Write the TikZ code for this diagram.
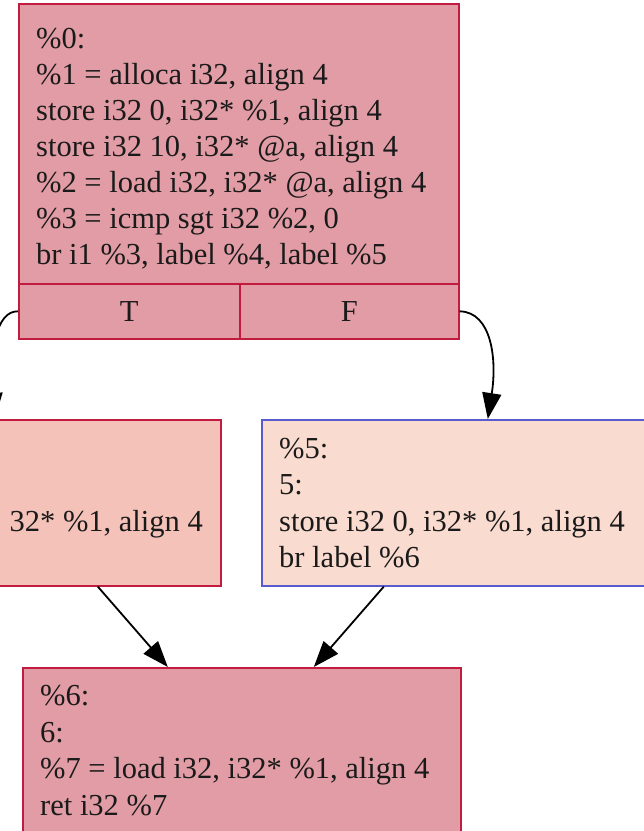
\documentclass[tikz,border=0pt]{standalone}
\usepackage{fontspec}
\setmainfont{Liberation Serif}
\usetikzlibrary{arrows.meta}
\definecolor{blockred}{HTML}{E29CA5}
\definecolor{blocklight}{HTML}{F4C2B9}
\definecolor{blockpeach}{HTML}{FADBCF}
\definecolor{crimson}{HTML}{C11C3F}
\definecolor{edgeblue}{HTML}{5A5ACF}
\definecolor{ink}{HTML}{1A1A1A}
\begin{document}
\begin{tikzpicture}[x=1bp,y=-1bp,
  blk/.style={draw=crimson, line width=1.6bp, rectangle, inner sep=0pt, anchor=north west},
  hot/.style={blk, fill=blockred},
  warm/.style={blk, fill=blocklight},
  cool/.style={blk, draw=edgeblue, fill=blockpeach},
  codefont/.style={font=\fontsize{30.5bp}{36bp}\selectfont, text=ink},
  txt/.style={codefont, anchor=base west, inner sep=0pt},
  flow/.style={draw=black, line width=1.8bp, -{Triangle[length=26bp,width=19bp]}}
]
\useasboundingbox (0,0) rectangle (644,831);
\clip (0,0) rectangle (644,831);

% entry block with its two branch ports
\node[hot, minimum width=440bp, minimum height=280bp] (entry) at (18,3) {};
\node[hot, minimum width=221bp, minimum height=55bp, codefont] (tport) at (18,283) {T};
\node[hot, minimum width=219bp, minimum height=55bp, codefont] (fport) at (239,283) {F};
\node[txt] (e0) at (36,48)  {\%0:};
\node[txt] (e1) at (36,84)  {\%1 = alloca i32, align 4};
\node[txt] (e2) at (36,120) {store i32 0, i32* \%1, align 4};
\node[txt] (e3) at (36,156) {store i32 10, i32* @a, align 4};
\node[txt] (e4) at (36,192) {\%2 = load i32, i32* @a, align 4};
\node[txt] (e5) at (36,228) {\%3 = icmp sgt i32 \%2, 0};
\node[txt] (e6) at (36,264) {br i1 \%3, label \%4, label \%5};

% block %4 (true branch)
\node[warm, minimum width=384bp, minimum height=166bp] (blkfour) at (-164,419) {};
\node[txt, anchor=base east] (f2) at (203,531) {32* \%1, align 4};

% block %5 (false branch)
\node[cool, minimum width=384bp, minimum height=166bp] (blkfive) at (261,419) {};
\node[txt] (g0) at (279,458) {\%5:};
\node[txt] (g1) at (279,494.5) {5:};
\node[txt] (g2) at (279,531) {store i32 0, i32* \%1, align 4};
\node[txt] (g3) at (279,567.5) {br label \%6};

% block %6 (join)
\node[hot, minimum width=438bp, minimum height=166bp] (blksix) at (22,667) {};
\node[txt] (h0) at (40,705) {\%6:};
\node[txt] (h1) at (40,742) {6:};
\node[txt] (h2) at (40,778.5) {\%7 = load i32, i32* \%1, align 4};
\node[txt] (h3) at (40,815) {ret i32 \%7};

% control-flow edges
\draw[flow] (tport.west) .. controls (-4,311) and (-10,350) .. ([xshift=-34bp]blkfour.north);
\draw[flow] (fport.east) .. controls (492,312) and (497,360) .. ([xshift=34bp]blkfive.north);
\draw[flow] ([xshift=69bp]blkfour.south) -- ([xshift=-74bp]blksix.north);
\draw[flow] ([xshift=-70bp]blkfive.south) -- ([xshift=72bp]blksix.north);
\end{tikzpicture}
\end{document}
